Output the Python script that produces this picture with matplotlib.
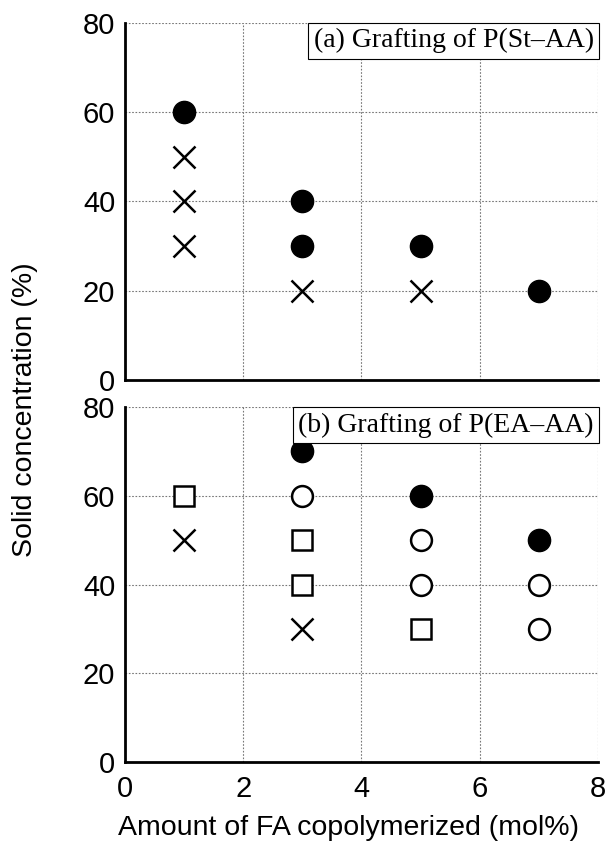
import matplotlib
matplotlib.use("Agg")
import matplotlib.pyplot as plt

# Panel (a): Grafting of P(St-AA)
a_filled_x = [1, 3, 3, 5, 7]
a_filled_y = [60, 40, 30, 30, 20]
a_cross_x = [1, 1, 1, 3, 5]
a_cross_y = [50, 40, 30, 20, 20]

# Panel (b): Grafting of P(EA-AA)
b_filled_x = [3, 5, 7]
b_filled_y = [70, 60, 50]
b_open_x = [3, 5, 5, 7, 7]
b_open_y = [60, 50, 40, 40, 30]
b_square_x = [1, 3, 3, 5]
b_square_y = [60, 50, 40, 30]
b_cross_x = [1, 3]
b_cross_y = [50, 30]

x_ticks = [0, 2, 4, 6, 8]
y_ticks = [0, 20, 40, 60, 80]
titles = ["(a) Grafting of P(St\u2013AA)", "(b) Grafting of P(EA\u2013AA)"]
xlabel = "Amount of FA copolymerized (mol%)"
ylabel = "Solid concentration (%)"

plt.rcParams['font.family'] = ['Liberation Sans', 'DejaVu Sans']

fig = plt.figure(figsize=(6.11, 8.42), dpi=100)
ax1 = fig.add_axes([0.2046, 0.5487, 0.774, 0.4243])
ax2 = fig.add_axes([0.2046, 0.095, 0.774, 0.4216])

ms = 16
for ax in (ax1, ax2):
    ax.set_xlim(0, 8)
    ax.set_ylim(0, 80)
    ax.set_xticks(x_ticks)
    ax.set_yticks(y_ticks)
    ax.grid(True, color='#777777', linestyle=(0, (1.5, 1.5)), linewidth=0.8)
    ax.set_axisbelow(True)
    for s in ('top', 'right'):
        ax.spines[s].set_visible(False)
    for s in ('left', 'bottom'):
        ax.spines[s].set_linewidth(2)
    ax.tick_params(length=0, labelsize=21)
    ax.tick_params(axis='y', pad=7)
    ax.tick_params(axis='x', pad=9)

ax1.tick_params(labelbottom=False)

def cross(ax, x, y):
    ax.plot(x, y, 'x', color='black', markersize=ms, markeredgewidth=1.8, linestyle='none', zorder=3)

ax1.plot(a_filled_x, a_filled_y, 'o', color='black', markersize=ms, linestyle='none', zorder=3)
cross(ax1, a_cross_x, a_cross_y)

ax2.plot(b_filled_x, b_filled_y, 'o', color='black', markersize=ms, linestyle='none', zorder=3)
ax2.plot(b_open_x, b_open_y, 'o', markerfacecolor='white', markeredgecolor='black',
         markersize=ms - 1, markeredgewidth=1.8, linestyle='none', zorder=3)
ax2.plot(b_square_x, b_square_y, 's', markerfacecolor='white', markeredgecolor='black',
         markersize=ms - 2, markeredgewidth=1.8, linestyle='none', zorder=3)
cross(ax2, b_cross_x, b_cross_y)

for ax, t in zip((ax1, ax2), titles):
    ax.text(0.991, 0.985, t, transform=ax.transAxes, ha='right', va='top',
            fontsize=20, family=['Liberation Serif'],
            bbox=dict(boxstyle='square,pad=0.2', facecolor='white', edgecolor='black', linewidth=0.8),
            zorder=5)

fig.text(0.571, 0.0083, xlabel, ha='center', va='baseline', fontsize=20.5)
fig.text(0.041, 0.513, ylabel, rotation=90, ha='center', va='center', fontsize=20.5)

fig.savefig("out.png", dpi=100)
